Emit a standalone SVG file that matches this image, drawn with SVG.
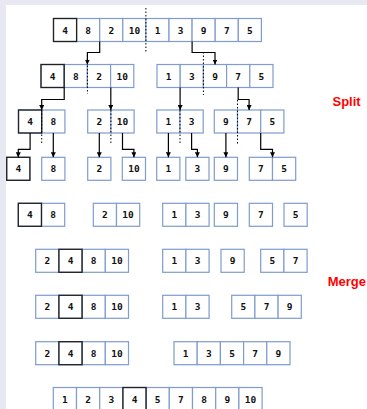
<svg xmlns="http://www.w3.org/2000/svg" width="367" height="409" viewBox="0 0 367 409">
<defs>
<style>
.c{fill:#fff;stroke:#7f9ccf;stroke-width:1.2}
.k{fill:none;stroke:#222;stroke-width:1.3}
.t{font-family:"DejaVu Sans Mono",monospace;font-weight:bold;font-size:9.5px;fill:#111;text-anchor:middle}
.a{fill:none;stroke:#000;stroke-width:1.2;marker-end:url(#ah)}
.d{fill:none;stroke:#000;stroke-width:1;stroke-dasharray:1.5,2}
.lbl{font-family:"Liberation Sans",Arial,sans-serif;font-weight:bold;font-size:13px;fill:#f00}
</style>
<marker id="ah" viewBox="0 0 10 10" refX="10" refY="5" markerWidth="5" markerHeight="5" markerUnits="userSpaceOnUse" orient="auto">
<path d="M0,0 L10,5 L0,10 z" fill="#000"/>
</marker>
</defs>
<rect x="0" y="0" width="367" height="409" fill="#e8e8f3"/>
<rect x="6" y="5" width="361" height="404" fill="#fff"/>

<g id="row1">
<rect class="c" x="53.5" y="18.5" width="23.1" height="23"/><rect class="c" x="76.6" y="18.5" width="23.1" height="23"/><rect class="c" x="99.7" y="18.5" width="23.1" height="23"/><rect class="c" x="122.8" y="18.5" width="23.1" height="23"/><rect class="c" x="145.9" y="18.5" width="23.1" height="23"/><rect class="c" x="169" y="18.5" width="23.1" height="23"/><rect class="c" x="192.1" y="18.5" width="23.1" height="23"/><rect class="c" x="215.2" y="18.5" width="23.1" height="23"/><rect class="c" x="238.3" y="18.5" width="23.1" height="23"/>
<rect class="k" x="53.5" y="18.5" width="23.1" height="23"/>
<text class="t" x="65.1" y="33.5">4</text><text class="t" x="88.2" y="33.5">8</text><text class="t" x="111.3" y="33.5">2</text><text class="t" x="134.4" y="33.5">10</text><text class="t" x="157.5" y="33.5">1</text><text class="t" x="180.6" y="33.5">3</text><text class="t" x="203.7" y="33.5">9</text><text class="t" x="226.8" y="33.5">7</text><text class="t" x="249.9" y="33.5">5</text>
</g>

<g id="row2-left">
<rect class="c" x="41" y="64.5" width="23.2" height="23"/><rect class="c" x="64.2" y="64.5" width="23.2" height="23"/><rect class="c" x="87.4" y="64.5" width="23.2" height="23"/><rect class="c" x="110.6" y="64.5" width="23.2" height="23"/>
<rect class="k" x="41" y="64.5" width="23.2" height="23"/>
<text class="t" x="52.6" y="79.5">4</text><text class="t" x="75.8" y="79.5">8</text><text class="t" x="99" y="79.5">2</text><text class="t" x="122.2" y="79.5">10</text>
</g>
<g id="row2-right">
<rect class="c" x="157" y="64.5" width="23.2" height="23"/><rect class="c" x="180.2" y="64.5" width="23.2" height="23"/><rect class="c" x="203.4" y="64.5" width="23.2" height="23"/><rect class="c" x="226.6" y="64.5" width="23.2" height="23"/><rect class="c" x="249.8" y="64.5" width="23.2" height="23"/>
<text class="t" x="168.6" y="79.5">1</text><text class="t" x="191.8" y="79.5">3</text><text class="t" x="215" y="79.5">9</text><text class="t" x="238.2" y="79.5">7</text><text class="t" x="261.4" y="79.5">5</text>
</g>

<g id="row3-48">
<rect class="c" x="18.5" y="110" width="23.2" height="23"/><rect class="c" x="41.7" y="110" width="23.2" height="23"/>
<rect class="k" x="18.5" y="110" width="23.2" height="23"/>
<text class="t" x="30.1" y="125">4</text><text class="t" x="53.3" y="125">8</text>
</g>
<g id="row3-210">
<rect class="c" x="87.7" y="110" width="23.2" height="23"/><rect class="c" x="110.9" y="110" width="23.2" height="23"/>
<text class="t" x="99.3" y="125">2</text><text class="t" x="122.5" y="125">10</text>
</g>
<g id="row3-13">
<rect class="c" x="156.8" y="110" width="23.2" height="23"/><rect class="c" x="180" y="110" width="23.2" height="23"/>
<text class="t" x="168.4" y="125">1</text><text class="t" x="191.6" y="125">3</text>
</g>
<g id="row3-975">
<rect class="c" x="214.3" y="110" width="23.2" height="23"/><rect class="c" x="237.5" y="110" width="23.2" height="23"/><rect class="c" x="260.7" y="110" width="23.2" height="23"/>
<text class="t" x="225.9" y="125">9</text><text class="t" x="249.1" y="125">7</text><text class="t" x="272.3" y="125">5</text>
</g>

<g id="row4-4"><rect class="c" x="6.7" y="157.3" width="23.2" height="23"/><rect class="k" x="6.7" y="157.3" width="23.2" height="23"/><text class="t" x="18.3" y="172.3">4</text></g>
<g id="row4-8"><rect class="c" x="41.7" y="157.3" width="23.2" height="23"/><text class="t" x="53.3" y="172.3">8</text></g>
<g id="row4-2"><rect class="c" x="87.7" y="157.3" width="23.2" height="23"/><text class="t" x="99.3" y="172.3">2</text></g>
<g id="row4-10"><rect class="c" x="122.3" y="157.3" width="23.2" height="23"/><text class="t" x="133.9" y="172.3">10</text></g>
<g id="row4-1"><rect class="c" x="156.7" y="157.3" width="23.2" height="23"/><text class="t" x="168.3" y="172.3">1</text></g>
<g id="row4-3"><rect class="c" x="185.8" y="157.3" width="23.2" height="23"/><text class="t" x="197.4" y="172.3">3</text></g>
<g id="row4-9"><rect class="c" x="214.3" y="157.3" width="23.2" height="23"/><text class="t" x="225.9" y="172.3">9</text></g>
<g id="row4-75"><rect class="c" x="249.3" y="157.3" width="23.2" height="23"/><rect class="c" x="272.5" y="157.3" width="23.2" height="23"/><text class="t" x="260.9" y="172.3">7</text><text class="t" x="284.1" y="172.3">5</text></g>

<g id="row5-48"><rect class="c" x="18.3" y="203.3" width="23.2" height="23"/><rect class="c" x="41.5" y="203.3" width="23.2" height="23"/><rect class="k" x="18.3" y="203.3" width="23.2" height="23"/><text class="t" x="29.9" y="218.3">4</text><text class="t" x="53.1" y="218.3">8</text></g>
<g id="row5-210"><rect class="c" x="93.3" y="203.3" width="23.2" height="23"/><rect class="c" x="116.5" y="203.3" width="23.2" height="23"/><text class="t" x="104.9" y="218.3">2</text><text class="t" x="128.1" y="218.3">10</text></g>
<g id="row5-13"><rect class="c" x="162.7" y="203.3" width="23.2" height="23"/><rect class="c" x="185.9" y="203.3" width="23.2" height="23"/><text class="t" x="174.3" y="218.3">1</text><text class="t" x="197.5" y="218.3">3</text></g>
<g id="row5-9"><rect class="c" x="214.3" y="203.3" width="23.2" height="23"/><text class="t" x="225.9" y="218.3">9</text></g>
<g id="row5-7"><rect class="c" x="249.3" y="203.3" width="23.2" height="23"/><text class="t" x="260.9" y="218.3">7</text></g>
<g id="row5-5"><rect class="c" x="284" y="203.3" width="23.2" height="23"/><text class="t" x="295.6" y="218.3">5</text></g>

<g id="row6-24810"><rect class="c" x="35.7" y="249.3" width="23.2" height="23"/><rect class="c" x="58.9" y="249.3" width="23.2" height="23"/><rect class="c" x="82.1" y="249.3" width="23.2" height="23"/><rect class="c" x="105.3" y="249.3" width="23.2" height="23"/><rect class="k" x="58.9" y="249.3" width="23.2" height="23"/><text class="t" x="47.3" y="264.3">2</text><text class="t" x="70.5" y="264.3">4</text><text class="t" x="93.7" y="264.3">8</text><text class="t" x="116.9" y="264.3">10</text></g>
<g id="row6-13"><rect class="c" x="162.7" y="249.3" width="23.2" height="23"/><rect class="c" x="185.9" y="249.3" width="23.2" height="23"/><text class="t" x="174.3" y="264.3">1</text><text class="t" x="197.5" y="264.3">3</text></g>
<g id="row6-9"><rect class="c" x="221" y="249.3" width="23.2" height="23"/><text class="t" x="232.6" y="264.3">9</text></g>
<g id="row6-57"><rect class="c" x="260.7" y="249.3" width="23.2" height="23"/><rect class="c" x="283.9" y="249.3" width="23.2" height="23"/><text class="t" x="272.3" y="264.3">5</text><text class="t" x="295.5" y="264.3">7</text></g>

<g id="row7-24810"><rect class="c" x="35.7" y="295.3" width="23.2" height="23"/><rect class="c" x="58.9" y="295.3" width="23.2" height="23"/><rect class="c" x="82.1" y="295.3" width="23.2" height="23"/><rect class="c" x="105.3" y="295.3" width="23.2" height="23"/><rect class="k" x="58.9" y="295.3" width="23.2" height="23"/><text class="t" x="47.3" y="310.3">2</text><text class="t" x="70.5" y="310.3">4</text><text class="t" x="93.7" y="310.3">8</text><text class="t" x="116.9" y="310.3">10</text></g>
<g id="row7-13"><rect class="c" x="162.7" y="295.3" width="23.2" height="23"/><rect class="c" x="185.9" y="295.3" width="23.2" height="23"/><text class="t" x="174.3" y="310.3">1</text><text class="t" x="197.5" y="310.3">3</text></g>
<g id="row7-579"><rect class="c" x="231.7" y="295.3" width="23.2" height="23"/><rect class="c" x="254.9" y="295.3" width="23.2" height="23"/><rect class="c" x="278.1" y="295.3" width="23.2" height="23"/><text class="t" x="243.3" y="310.3">5</text><text class="t" x="266.5" y="310.3">7</text><text class="t" x="289.7" y="310.3">9</text></g>

<g id="row8-24810"><rect class="c" x="35.7" y="341.7" width="23.2" height="23"/><rect class="c" x="58.9" y="341.7" width="23.2" height="23"/><rect class="c" x="82.1" y="341.7" width="23.2" height="23"/><rect class="c" x="105.3" y="341.7" width="23.2" height="23"/><rect class="k" x="58.9" y="341.7" width="23.2" height="23"/><text class="t" x="47.3" y="356.7">2</text><text class="t" x="70.5" y="356.7">4</text><text class="t" x="93.7" y="356.7">8</text><text class="t" x="116.9" y="356.7">10</text></g>
<g id="row8-13579"><rect class="c" x="174" y="341.7" width="23.2" height="23"/><rect class="c" x="197.2" y="341.7" width="23.2" height="23"/><rect class="c" x="220.4" y="341.7" width="23.2" height="23"/><rect class="c" x="243.6" y="341.7" width="23.2" height="23"/><rect class="c" x="266.8" y="341.7" width="23.2" height="23"/><text class="t" x="185.6" y="356.7">1</text><text class="t" x="208.8" y="356.7">3</text><text class="t" x="232" y="356.7">5</text><text class="t" x="255.2" y="356.7">7</text><text class="t" x="278.4" y="356.7">9</text></g>

<g id="row9">
<rect class="c" x="53.3" y="387.5" width="23.2" height="23"/><rect class="c" x="76.5" y="387.5" width="23.2" height="23"/><rect class="c" x="99.7" y="387.5" width="23.2" height="23"/><rect class="c" x="122.9" y="387.5" width="23.2" height="23"/><rect class="c" x="146.1" y="387.5" width="23.2" height="23"/><rect class="c" x="169.3" y="387.5" width="23.2" height="23"/><rect class="c" x="192.5" y="387.5" width="23.2" height="23"/><rect class="c" x="215.7" y="387.5" width="23.2" height="23"/><rect class="c" x="238.9" y="387.5" width="23.2" height="23"/>
<rect class="k" x="122.9" y="387.5" width="23.2" height="23"/>
<text class="t" x="64.9" y="402.5">1</text><text class="t" x="88.1" y="402.5">2</text><text class="t" x="111.3" y="402.5">3</text><text class="t" x="134.5" y="402.5">4</text><text class="t" x="157.7" y="402.5">5</text><text class="t" x="180.9" y="402.5">7</text><text class="t" x="204.1" y="402.5">8</text><text class="t" x="227.3" y="402.5">9</text><text class="t" x="250.5" y="402.5">10</text>
</g>

<g id="connectors">
<path class="d" d="M145.9,8 V53"/>
<path class="d" d="M87.4,55 V94"/>
<path class="d" d="M203.4,52 V95"/>
<path class="d" d="M41.7,110 V143"/>
<path class="d" d="M110.9,110 V143"/>
<path class="d" d="M180,110 V143"/>
<path class="d" d="M237.5,100 V145"/>
<path class="a" d="M99.7,41.5 V52.5 H87.4 V64.5"/>
<path class="a" d="M192.1,41.5 V52.5 H215 V64.5"/>
<path class="a" d="M64.2,87.5 V99.5 H41.7 V110"/>
<path class="a" d="M110.8,87.5 V110"/>
<path class="a" d="M180.1,87.5 V110"/>
<path class="a" d="M238.2,87.5 V99.5 H249.1 V110"/>
<path class="a" d="M30.1,133 V149.3 H18.3 V157.3"/>
<path class="a" d="M53.3,133 V157.3"/>
<path class="a" d="M99.3,133 V157.3"/>
<path class="a" d="M122.5,133 V149.3 H133.9 V157.3"/>
<path class="a" d="M168.4,133 V157.3"/>
<path class="a" d="M191.6,133 V149.3 H197.4 V157.3"/>
<path class="a" d="M225.9,133 V157.3"/>
<path class="a" d="M260.7,133 V149.3 H272.5 V157.3"/>
</g>

<text class="lbl" x="332.5" y="105.5">Split</text>
<text class="lbl" x="327.7" y="285.5">Merge</text>
</svg>
